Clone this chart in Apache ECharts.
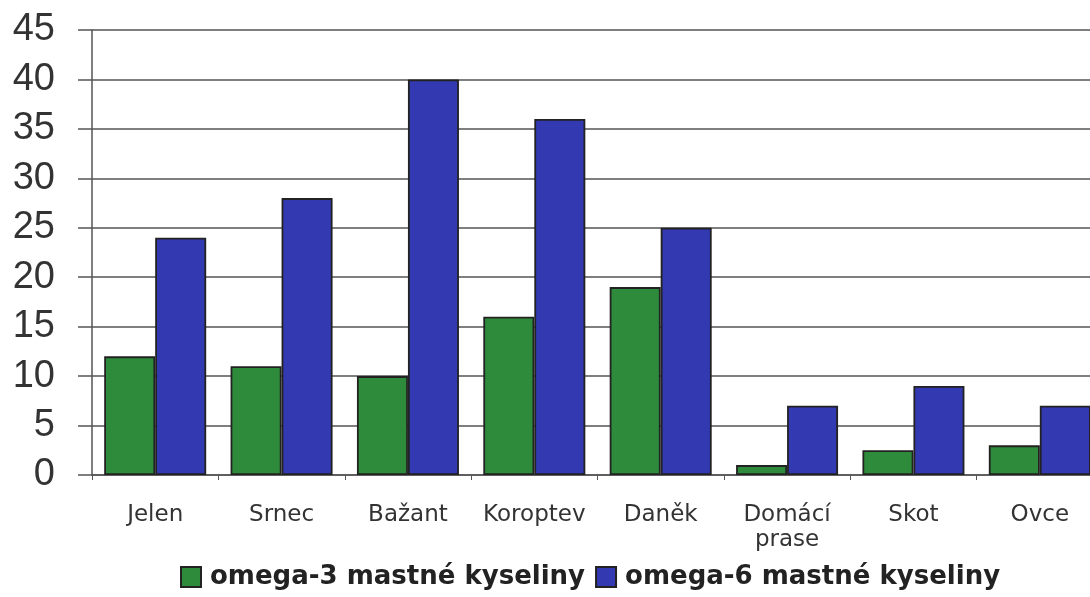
<!DOCTYPE html>
<html><head><meta charset="utf-8">
<script src="https://cdn.jsdelivr.net/npm/echarts@6/dist/echarts.min.js"></script>
<style>html,body{margin:0;padding:0;background:#fff}#c{width:1090px;height:597px}</style>
</head><body><div id="c"></div>
<script>
const categories = ['Jelen','Srnec','Bažant','Koroptev','Daněk','Domácí\nprase','Skot','Ovce'];
const omega3 = [12, 11, 10, 16, 19, 1, 2.5, 3];
const omega6 = [24, 28, 40, 36, 25, 7, 9, 7];
const seriesNames = ['omega-3 mastné kyseliny','omega-6 mastné kyseliny'];

const chart = echarts.init(document.getElementById('c'));
const arial = '"Liberation Sans", Arial, sans-serif';
const dejavu = '"DejaVu Sans", sans-serif';
chart.setOption({
  animation: false,
  backgroundColor: '#fff',
  grid: {left: 92, top: 30, height: 445, width: 1011, outerBoundsMode: 'none', containLabel: false},
  legend: {
    bottom: 2, left: 175,
    icon: 'rect',
    itemWidth: 20, itemHeight: 20, itemGap: 10,
    textStyle: {fontFamily: dejavu, fontSize: 26, fontWeight: 'bold', color: '#222', padding: [0, 0, 0, 4]},
    data: seriesNames
  },
  xAxis: {
    type: 'category', data: categories,
    axisLine: {lineStyle: {color: '#555', width: 1.5}},
    axisTick: {show: true, length: 5, lineStyle: {color: '#555'}},
    axisLabel: {fontFamily: dejavu, fontSize: 23, color: '#333', margin: 28, lineHeight: 25, interval: 0}
  },
  yAxis: {
    type: 'value', min: 0, max: 45, interval: 5,
    axisLine: {show: true, lineStyle: {color: '#555', width: 1.5}},
    axisTick: {show: true, length: 14, lineStyle: {color: '#555', width: 1.5}},
    splitLine: {lineStyle: {color: '#555', width: 1.5}},
    axisLabel: {fontFamily: arial, fontSize: 38, color: '#333', margin: 37}
  },
  series: [
    {name: seriesNames[0], type: 'bar', data: omega3, barWidth: 51, barGap: '0%',
     itemStyle: {color: '#2e8b3c', borderColor: '#222', borderWidth: 1.8}},
    {name: seriesNames[1], type: 'bar', data: omega6, barWidth: 51, barGap: '0%',
     itemStyle: {color: '#3339b0', borderColor: '#222', borderWidth: 1.8}}
  ]
});
</script></body></html>
